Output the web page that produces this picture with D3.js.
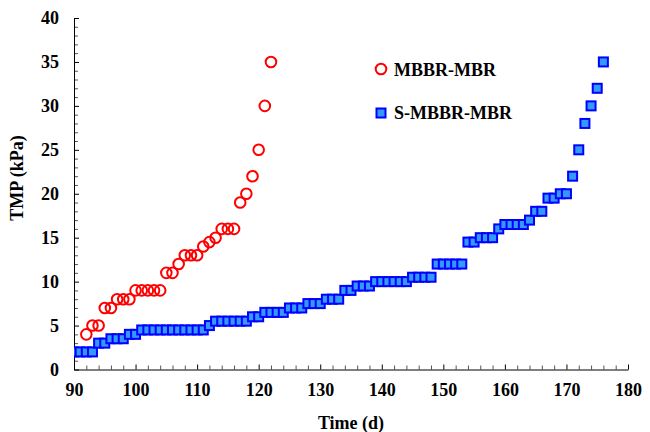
<!DOCTYPE html>
<html>
<head>
<meta charset="utf-8">
<script src="https://cdn.jsdelivr.net/npm/d3@7"></script>
<style>
  body { margin: 0; background: #fff; }
  text { font-family: "Liberation Serif", "Times New Roman", serif; font-weight: bold; fill: #000; }
</style>
</head>
<body>
<div id="chart"></div>
<script>
// Data
var mbbrDays = [92, 93, 94, 95, 96, 97, 98, 99, 100, 101, 102, 103, 104, 105, 106, 107,
  108, 109, 110, 111, 112, 113, 114, 115, 116, 117, 118, 119, 120, 121, 122];
var mbbrTmp = [4, 5, 5, 7, 7, 8, 8, 8, 9, 9, 9, 9, 9, 11, 11, 12,
  13, 13, 13, 14, 14.5, 15, 16, 16, 16, 19, 20, 22, 25, 30, 35];

var smbbrDays = [90, 91, 92, 93, 94, 95, 96, 97, 98, 99, 100, 101, 102, 103, 104, 105,
  106, 107, 108, 109, 110, 111, 112, 113, 114, 115, 116, 117, 118, 119, 120, 121,
  122, 123, 124, 125, 126, 127, 128, 129, 130, 131, 132, 133, 134, 135, 136, 137,
  138, 139, 140, 141, 142, 143, 144, 145, 146, 147, 148, 149, 150, 151, 152, 153,
  154, 155, 156, 157, 158, 159, 160, 161, 162, 163, 164, 165, 166, 167, 168, 169,
  170, 171, 172, 173, 174, 175, 176];
var smbbrTmp = [2, 2, 2, 2, 3, 3, 3.5, 3.5, 3.5, 4, 4, 4.5, 4.5, 4.5, 4.5, 4.5,
  4.5, 4.5, 4.5, 4.5, 4.5, 4.5, 5, 5.5, 5.5, 5.5, 5.5, 5.5, 5.5, 6, 6, 6.5,
  6.5, 6.5, 6.5, 7, 7, 7, 7.5, 7.5, 7.5, 8, 8, 8, 9, 9, 9.5, 9.5,
  9.5, 10, 10, 10, 10, 10, 10, 10.5, 10.5, 10.5, 10.5, 12, 12, 12, 12, 12,
  14.5, 14.5, 15, 15, 15, 16, 16.5, 16.5, 16.5, 16.5, 17, 18, 18, 19.5, 19.5, 20,
  20, 22, 25, 28, 30, 32, 35];

var xTicks = [90, 100, 110, 120, 130, 140, 150, 160, 170, 180];
var yTicks = [0, 5, 10, 15, 20, 25, 30, 35, 40];
var seriesNames = ["MBBR-MBR", "S-MBBR-MBR"];

var svgWidth = 650;
var svgHeight = 432;

var margin = { top: 18, right: 22, bottom: 62.5, left: 74 };
var width = svgWidth - margin.left - margin.right;
var height = svgHeight - margin.top - margin.bottom;

var svg = d3.select("#chart")
  .append("svg")
  .attr("width", svgWidth)
  .attr("height", svgHeight);

var chartGroup = svg.append("g")
  .attr("transform", `translate(${margin.left}, ${margin.top})`);

var xScale = d3.scaleLinear().domain([90, 180]).range([0, width]);
var yScale = d3.scaleLinear().domain([0, 40]).range([height, 0]);

// minor ticks first, then the main axes on top
var xMinor = d3.range(90, 181, 2).filter(d => d % 10 !== 0);
var yMinor = d3.range(0, 41, 1).filter(d => d % 5 !== 0);

chartGroup.append("g")
  .attr("transform", `translate(0, ${height})`)
  .call(d3.axisBottom(xScale).tickValues(xMinor).tickSize(-4).tickFormat(""))
  .call(g => g.select(".domain").remove())
  .selectAll("line").attr("stroke", "#555");

chartGroup.append("g")
  .call(d3.axisLeft(yScale).tickValues(yMinor).tickSize(-4).tickFormat(""))
  .call(g => g.select(".domain").remove())
  .selectAll("line").attr("stroke", "#555");

var bottomAxis = d3.axisBottom(xScale).tickValues(xTicks).tickSize(-5).tickSizeOuter(0).tickPadding(14);
var leftAxis = d3.axisLeft(yScale).tickValues(yTicks).tickSize(-5).tickSizeOuter(0).tickPadding(15);

var xAxis = chartGroup.append("g")
  .attr("transform", `translate(0, ${height})`)
  .call(bottomAxis);

var yAxis = chartGroup.append("g")
  .call(leftAxis);

[xAxis, yAxis].forEach(function(ax) {
  ax.selectAll("text")
    .style("font-family", "'Liberation Serif', serif")
    .style("font-weight", "bold")
    .style("font-size", "18px")
    .attr("fill", "#000");
  ax.select(".domain").attr("stroke", "#000");
  ax.selectAll(".tick line").attr("stroke", "#000");
});

// clip markers at the y axis
svg.append("clipPath")
  .attr("id", "plotClip")
  .append("rect")
  .attr("x", 0)
  .attr("y", -10)
  .attr("width", width + 20)
  .attr("height", height + 20);

var plot = chartGroup.append("g").attr("clip-path", "url(#plotClip)");

var sqSide = 9;

// S-MBBR-MBR squares
plot.selectAll(".sq")
  .data(smbbrDays)
  .enter()
  .append("rect")
  .classed("sq", true)
  .attr("x", (d, i) => xScale(d) - sqSide / 2)
  .attr("y", (d, i) => yScale(smbbrTmp[i]) - sqSide / 2)
  .attr("width", sqSide)
  .attr("height", sqSide)
  .attr("fill", "#3399ff")
  .attr("stroke", "#0000ff")
  .attr("stroke-width", 2);

// MBBR-MBR circles
plot.selectAll(".ci")
  .data(mbbrDays)
  .enter()
  .append("circle")
  .classed("ci", true)
  .attr("cx", (d, i) => xScale(d))
  .attr("cy", (d, i) => yScale(mbbrTmp[i]))
  .attr("r", 5.3)
  .attr("fill", "none")
  .attr("stroke", "#ff0000")
  .attr("stroke-width", 2);

// legend
var legend = svg.append("g");

legend.append("circle")
  .attr("cx", 381)
  .attr("cy", 69)
  .attr("r", 5.3)
  .attr("fill", "none")
  .attr("stroke", "#ff0000")
  .attr("stroke-width", 2);

legend.append("text")
  .attr("x", 394)
  .attr("y", 75.5)
  .style("font-size", "18px")
  .text(seriesNames[0]);

legend.append("rect")
  .attr("x", 381 - sqSide / 2)
  .attr("y", 113 - sqSide / 2)
  .attr("width", sqSide)
  .attr("height", sqSide)
  .attr("fill", "#3399ff")
  .attr("stroke", "#0000ff")
  .attr("stroke-width", 2);

legend.append("text")
  .attr("x", 394)
  .attr("y", 119)
  .style("font-size", "18px")
  .text(seriesNames[1]);

// axis titles
svg.append("text")
  .attr("x", margin.left + width / 2)
  .attr("y", 429)
  .attr("text-anchor", "middle")
  .style("font-size", "18px")
  .text("Time (d)");

svg.append("text")
  .attr("transform", "rotate(-90)")
  .attr("x", -178)
  .attr("y", 23)
  .attr("text-anchor", "middle")
  .style("font-size", "18px")
  .text("TMP (kPa)");
</script>
</body>
</html>
